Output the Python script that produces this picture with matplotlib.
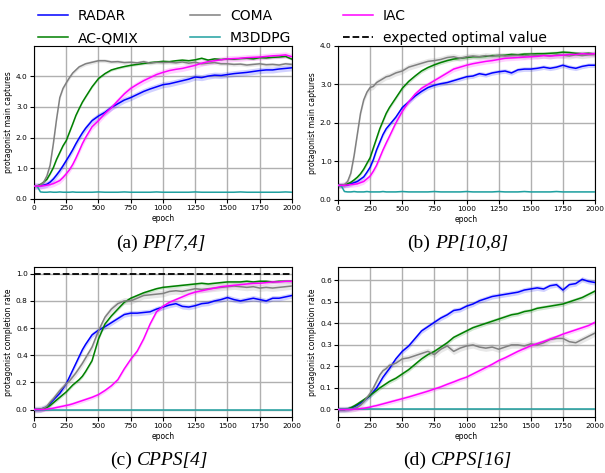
import numpy as np
import matplotlib
matplotlib.use("Agg")
import matplotlib.pyplot as plt
from matplotlib.lines import Line2D
from matplotlib.offsetbox import TextArea, HPacker, AnnotationBbox

epochs = np.concatenate([np.arange(0, 401, 25), np.arange(450, 2001, 50)])

methods = ["RADAR", "AC-QMIX", "COMA", "M3DDPG", "IAC"]
colors = ["#0000ff", "#008000", "#808080", "#20a0a0", "#ff00ff"]

# (a) PP[7,4] - protagonist main captures
pp74_radar = [0.42, 0.42, 0.43, 0.45, 0.48, 0.55, 0.65, 0.78, 0.92, 1.08, 1.25, 1.42, 1.60, 1.80, 1.98, 2.15, 2.30,
              2.55, 2.70, 2.82, 2.98, 3.10, 3.22, 3.30, 3.40, 3.50, 3.58, 3.65, 3.72, 3.75, 3.80, 3.85, 3.90,
              3.97, 3.95, 4.00, 4.03, 4.02, 4.05, 4.08, 4.10, 4.12, 4.15, 4.18, 4.20, 4.20, 4.23, 4.25, 4.27]
pp74_acqmix = [0.42, 0.43, 0.47, 0.55, 0.64, 0.82, 1.02, 1.29, 1.51, 1.73, 1.90, 2.17, 2.44, 2.72, 2.94, 3.15, 3.32,
               3.65, 3.92, 4.08, 4.20, 4.26, 4.31, 4.35, 4.38, 4.41, 4.44, 4.46, 4.48, 4.47, 4.50, 4.52, 4.50,
               4.53, 4.58, 4.52, 4.56, 4.54, 4.56, 4.55, 4.57, 4.58, 4.56, 4.60, 4.59, 4.61, 4.62, 4.64, 4.55]
pp74_coma = [0.42, 0.42, 0.45, 0.55, 0.75, 1.10, 1.80, 2.60, 3.30, 3.60, 3.78, 3.95, 4.10, 4.20, 4.30, 4.35, 4.40,
             4.45, 4.50, 4.50, 4.46, 4.47, 4.44, 4.45, 4.43, 4.47, 4.42, 4.45, 4.44, 4.45, 4.43, 4.46, 4.42,
             4.45, 4.40, 4.42, 4.44, 4.40, 4.40, 4.38, 4.39, 4.36, 4.38, 4.40, 4.37, 4.38, 4.36, 4.40, 4.38]
pp74_m3ddpg = [0.42, 0.41, 0.23, 0.22, 0.22, 0.23, 0.22, 0.22, 0.23, 0.22, 0.22, 0.22, 0.23, 0.22, 0.22, 0.22, 0.22,
               0.22, 0.23, 0.22, 0.22, 0.22, 0.23, 0.22, 0.22, 0.22, 0.22, 0.23, 0.22, 0.22, 0.22, 0.22, 0.22,
               0.23, 0.22, 0.22, 0.22, 0.22, 0.22, 0.22, 0.23, 0.22, 0.22, 0.22, 0.22, 0.22, 0.22, 0.23, 0.22]
pp74_iac = [0.42, 0.42, 0.42, 0.43, 0.45, 0.47, 0.50, 0.55, 0.60, 0.70, 0.82, 0.95, 1.12, 1.33, 1.56, 1.80, 2.00,
            2.35, 2.55, 2.78, 2.97, 3.20, 3.42, 3.60, 3.73, 3.85, 3.95, 4.05, 4.12, 4.18, 4.22, 4.25, 4.30,
            4.35, 4.42, 4.47, 4.50, 4.53, 4.56, 4.57, 4.58, 4.60, 4.61, 4.62, 4.64, 4.66, 4.67, 4.69, 4.63]
pp74_band = [0.10, 0.04, 0.06, 0.01, 0.10]

# (b) PP[10,8]
pp108_radar = [0.38, 0.38, 0.38, 0.39, 0.42, 0.45, 0.48, 0.54, 0.60, 0.72, 0.85, 1.05, 1.30, 1.50, 1.70, 1.85, 1.95,
               2.15, 2.40, 2.55, 2.70, 2.82, 2.92, 2.98, 3.02, 3.05, 3.10, 3.15, 3.20, 3.22, 3.28, 3.25, 3.30,
               3.33, 3.35, 3.30, 3.38, 3.40, 3.40, 3.42, 3.45, 3.42, 3.45, 3.50, 3.45, 3.42, 3.47, 3.50, 3.50]
pp108_acqmix = [0.38, 0.38, 0.39, 0.42, 0.46, 0.52, 0.59, 0.68, 0.80, 0.95, 1.10, 1.35, 1.60, 1.85, 2.05, 2.25, 2.40,
                2.65, 2.90, 3.08, 3.22, 3.35, 3.44, 3.51, 3.57, 3.62, 3.66, 3.68, 3.70, 3.72, 3.72, 3.73, 3.75,
                3.75, 3.76, 3.78, 3.77, 3.79, 3.79, 3.80, 3.80, 3.81, 3.82, 3.84, 3.83, 3.81, 3.80, 3.81, 3.79]
pp108_coma = [0.38, 0.38, 0.40, 0.48, 0.70, 1.15, 1.70, 2.25, 2.60, 2.80, 2.92, 2.95, 3.05, 3.10, 3.15, 3.20, 3.22,
              3.30, 3.35, 3.45, 3.50, 3.55, 3.60, 3.62, 3.65, 3.70, 3.72, 3.68, 3.72, 3.74, 3.72, 3.75, 3.73,
              3.76, 3.74, 3.75, 3.76, 3.74, 3.77, 3.75, 3.76, 3.74, 3.77, 3.76, 3.74, 3.77, 3.75, 3.77, 3.78]
pp108_m3ddpg = [0.38, 0.37, 0.22, 0.21, 0.21, 0.22, 0.21, 0.21, 0.21, 0.22, 0.21, 0.21, 0.21, 0.21, 0.22, 0.21, 0.21,
                0.21, 0.22, 0.21, 0.21, 0.21, 0.21, 0.22, 0.21, 0.21, 0.21, 0.21, 0.22, 0.21, 0.21, 0.21, 0.21,
                0.22, 0.21, 0.21, 0.21, 0.22, 0.21, 0.21, 0.21, 0.21, 0.22, 0.21, 0.21, 0.21, 0.21, 0.21, 0.21]
pp108_iac = [0.38, 0.38, 0.38, 0.39, 0.40, 0.41, 0.42, 0.45, 0.48, 0.55, 0.62, 0.75, 0.90, 1.10, 1.30, 1.48, 1.65,
             2.00, 2.30, 2.55, 2.75, 2.90, 3.00, 3.10, 3.20, 3.30, 3.40, 3.45, 3.50, 3.54, 3.57, 3.60, 3.62,
             3.65, 3.68, 3.69, 3.70, 3.71, 3.72, 3.73, 3.75, 3.74, 3.75, 3.76, 3.78, 3.78, 3.80, 3.79, 3.80]
pp108_band = [0.06, 0.05, 0.08, 0.01, 0.07]

# (c) CPPS[4] - protagonist completion rate
cpps4_radar = [0.0, 0.0, 0.0, 0.01, 0.02, 0.045, 0.07, 0.095, 0.12, 0.155, 0.19, 0.24, 0.29, 0.34, 0.39, 0.44, 0.48,
               0.55, 0.585, 0.61, 0.64, 0.67, 0.70, 0.71, 0.71, 0.715, 0.72, 0.74, 0.755, 0.77, 0.78, 0.76, 0.755,
               0.765, 0.78, 0.785, 0.80, 0.81, 0.825, 0.81, 0.80, 0.81, 0.82, 0.81, 0.80, 0.82, 0.82, 0.83, 0.84]
cpps4_acqmix = [0.0, 0.0, 0.003, 0.008, 0.015, 0.03, 0.05, 0.07, 0.09, 0.11, 0.13, 0.155, 0.18, 0.20, 0.22, 0.245, 0.28,
                0.36, 0.52, 0.63, 0.69, 0.74, 0.79, 0.82, 0.84, 0.86, 0.875, 0.89, 0.90, 0.905, 0.91, 0.915, 0.92,
                0.925, 0.93, 0.925, 0.93, 0.935, 0.94, 0.94, 0.94, 0.945, 0.94, 0.945, 0.945, 0.94, 0.945, 0.945, 0.945]
cpps4_coma = [0.0, 0.0, 0.003, 0.01, 0.025, 0.055, 0.08, 0.11, 0.14, 0.165, 0.19, 0.21, 0.24, 0.27, 0.305, 0.34, 0.38,
              0.46, 0.58, 0.68, 0.74, 0.78, 0.80, 0.80, 0.82, 0.84, 0.845, 0.85, 0.855, 0.87, 0.875, 0.87, 0.88,
              0.89, 0.885, 0.89, 0.895, 0.90, 0.905, 0.91, 0.905, 0.90, 0.905, 0.895, 0.90, 0.895, 0.90, 0.905, 0.91]
cpps4_m3ddpg = [0.0] * 49
cpps4_iac = [0.0, 0.0, 0.0, 0.0, 0.003, 0.006, 0.01, 0.015, 0.02, 0.025, 0.03, 0.035, 0.042, 0.05, 0.058, 0.066, 0.074,
             0.09, 0.11, 0.14, 0.175, 0.22, 0.30, 0.37, 0.43, 0.52, 0.63, 0.72, 0.76, 0.79, 0.81, 0.83, 0.85,
             0.865, 0.875, 0.885, 0.895, 0.905, 0.91, 0.915, 0.92, 0.925, 0.93, 0.93, 0.935, 0.94, 0.94, 0.945, 0.945]
cpps4_band = [0.02, 0.012, 0.025, 0.0, 0.015]
cpps4_optimal = 1.0

# (d) CPPS[16]
cpps16_radar = [0.0, 0.0, 0.0, 0.002, 0.006, 0.012, 0.02, 0.03, 0.04, 0.052, 0.065, 0.082, 0.10, 0.125, 0.15, 0.17, 0.19,
                0.235, 0.27, 0.295, 0.33, 0.365, 0.385, 0.405, 0.425, 0.44, 0.46, 0.465, 0.48, 0.49, 0.505, 0.515, 0.525,
                0.53, 0.535, 0.54, 0.545, 0.555, 0.56, 0.565, 0.56, 0.575, 0.58, 0.555, 0.58, 0.585, 0.605, 0.595, 0.59]
cpps16_acqmix = [0.0, 0.0, 0.0, 0.003, 0.008, 0.016, 0.025, 0.035, 0.045, 0.055, 0.065, 0.077, 0.088, 0.10, 0.11, 0.12, 0.13,
                 0.145, 0.165, 0.185, 0.21, 0.235, 0.255, 0.27, 0.29, 0.31, 0.335, 0.35, 0.365, 0.38, 0.39, 0.40, 0.41,
                 0.42, 0.43, 0.44, 0.445, 0.455, 0.46, 0.47, 0.475, 0.48, 0.485, 0.49, 0.50, 0.51, 0.52, 0.535, 0.55]
cpps16_coma = [0.0, 0.0, 0.0, 0.0, 0.002, 0.005, 0.01, 0.02, 0.035, 0.055, 0.075, 0.10, 0.13, 0.16, 0.18, 0.19, 0.205,
               0.215, 0.235, 0.24, 0.25, 0.26, 0.27, 0.255, 0.28, 0.295, 0.27, 0.285, 0.295, 0.30, 0.29, 0.285, 0.29,
               0.28, 0.29, 0.30, 0.30, 0.295, 0.305, 0.30, 0.31, 0.325, 0.33, 0.33, 0.315, 0.31, 0.325, 0.34, 0.355]
cpps16_m3ddpg = [0.0] * 49
cpps16_iac = [0.0, 0.0, 0.0, 0.0, 0.0, 0.001, 0.002, 0.004, 0.006, 0.008, 0.011, 0.015, 0.018, 0.022, 0.026, 0.03, 0.034,
              0.042, 0.05, 0.058, 0.067, 0.076, 0.085, 0.095, 0.105, 0.117, 0.128, 0.14, 0.15, 0.165, 0.18, 0.195, 0.21,
              0.227, 0.24, 0.255, 0.27, 0.283, 0.296, 0.306, 0.316, 0.327, 0.338, 0.35, 0.36, 0.37, 0.38, 0.39, 0.405]
cpps16_band = [0.012, 0.01, 0.015, 0.0, 0.01]

panels = [
    ([pp74_radar, pp74_acqmix, pp74_coma, pp74_m3ddpg, pp74_iac], pp74_band,
     "protagonist main captures", (0, 4.98), [0, 1, 2, 3, 4], ("(a)", "PP[7,4]"),
     [0.0562, 0.5793, 0.4264, 0.3235], (0.266, 0.486)),
    ([pp108_radar, pp108_acqmix, pp108_coma, pp108_m3ddpg, pp108_iac], pp108_band,
     "protagonist main captures", (0, 4.0), [0, 1, 2, 3, 4], ("(b)", "PP[10,8]"),
     [0.5587, 0.5772, 0.4248, 0.3256], (0.757, 0.486)),
    ([cpps4_radar, cpps4_acqmix, cpps4_coma, cpps4_m3ddpg, cpps4_iac], cpps4_band,
     "protagonist completion rate", (-0.055, 1.05), [0, 0.2, 0.4, 0.6, 0.8, 1.0], ("(c)", "CPPS[4]"),
     [0.0562, 0.1184, 0.4264, 0.3171], (0.263, 0.027)),
    ([cpps16_radar, cpps16_acqmix, cpps16_coma, cpps16_m3ddpg, cpps16_iac], cpps16_band,
     "protagonist completion rate", (-0.035, 0.662), [0, 0.1, 0.2, 0.3, 0.4, 0.5, 0.6], ("(d)", "CPPS[16]"),
     [0.5587, 0.1184, 0.4248, 0.3171], (0.757, 0.027)),
]

fig = plt.figure(figsize=(6.05, 4.73), dpi=100)

handles = []
for k, (series, band, ylabel, ylim, yticks, caption, rect, cap_xy) in enumerate(panels):
    ax = fig.add_axes(rect)
    for i, vals in enumerate(series):
        vals = np.array(vals)
        line, = ax.plot(epochs, vals, color=colors[i], lw=1.1, label=methods[i], zorder=3)
        if band[i] > 0:
            ax.fill_between(epochs, vals - band[i], vals + band[i], color=colors[i],
                            alpha=0.18, lw=0, zorder=2)
        if k == 0:
            handles.append(line)
    if k == 2:
        ax.axhline(cpps4_optimal, color="black", ls="--", lw=1.3, zorder=4)
    ax.set_xlim(0, 2000)
    ax.set_ylim(*ylim)
    ax.set_xticks([0, 250, 500, 750, 1000, 1250, 1500, 1750, 2000])
    ax.set_yticks(yticks)
    ax.yaxis.set_major_formatter(matplotlib.ticker.FormatStrFormatter("%.1f"))
    ax.grid(True, color="#b0b0b0", lw=1.0, zorder=0)
    ax.set_axisbelow(True)
    ax.tick_params(labelsize=5.3, length=3, width=0.8, pad=1.5)
    ax.set_xlabel("epoch", fontsize=5.5, labelpad=2)
    ax.set_ylabel(ylabel, fontsize=5.5, labelpad=2)

    # caption: "(a)" upright, name italic, Times-like
    parts = [TextArea(caption[0], textprops=dict(family="Liberation Serif", size=14)),
             TextArea(caption[1], textprops=dict(family="Liberation Serif", size=14, style="italic"))]
    box = HPacker(children=parts, align="baseline", pad=0, sep=3.5)
    ab = AnnotationBbox(box, cap_xy, xycoords="figure fraction", frameon=False,
                        box_alignment=(0.5, 0.5))
    fig.add_artist(ab)

handles.append(Line2D([], [], color="black", ls="--", lw=1.3))
labels = methods + ["expected optimal value"]
fig.legend(handles, labels, loc="center", bbox_to_anchor=(0.483, 0.943), ncol=3,
           frameon=False, fontsize=10, columnspacing=3.7, handlelength=2.15,
           handletextpad=0.72, labelspacing=0.6)

fig.savefig("out.png", dpi=100)
